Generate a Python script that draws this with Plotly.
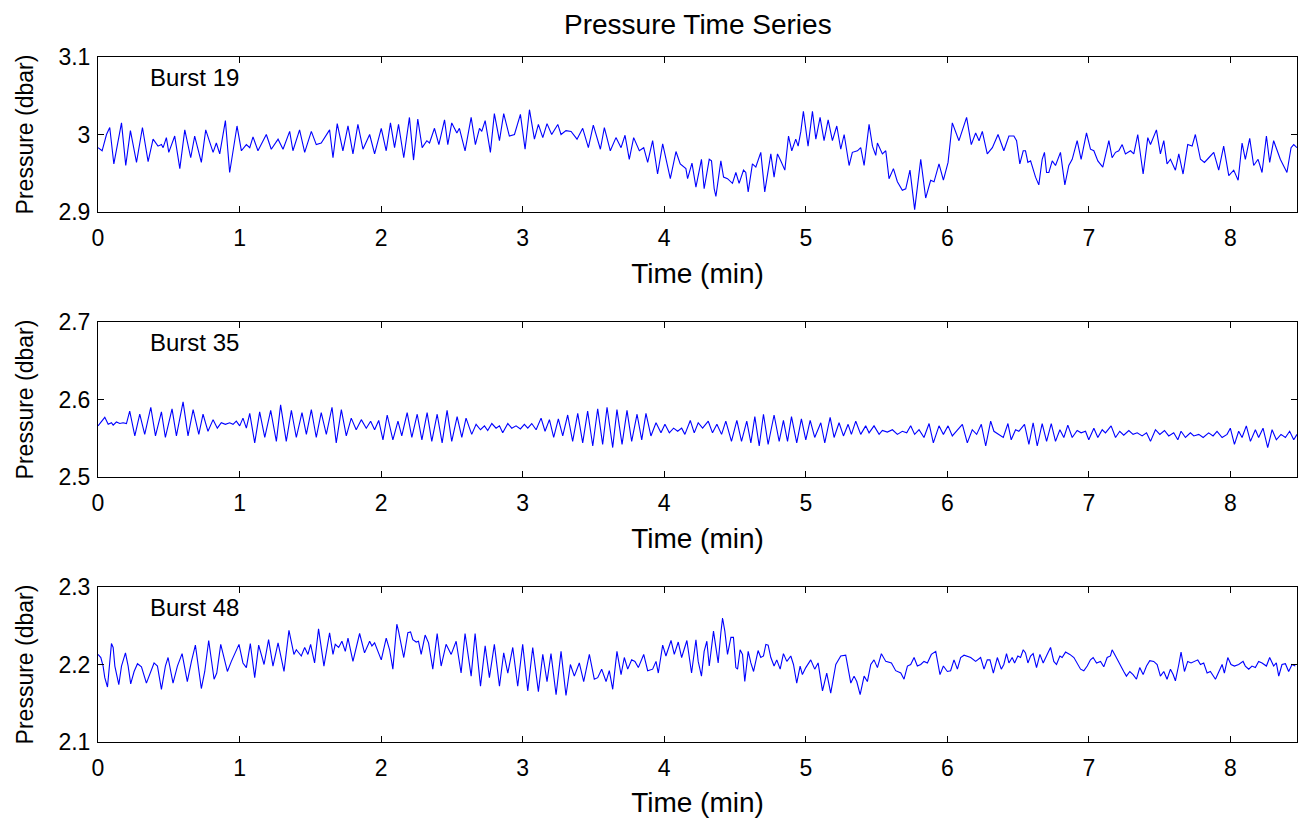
import plotly.graph_objects as go

# (time in min, pressure in dbar)
burst19 = [(0.000,2.983),(0.029,2.979),(0.060,3.000),(0.083,3.009),(0.112,2.962),(0.166,3.015),(0.196,2.960),(0.229,3.005),(0.272,2.964),(0.314,3.009),(0.354,2.965),(0.389,2.994),(0.424,2.985),(0.448,2.987),(0.460,2.983),(0.483,2.996),(0.500,2.977),(0.542,2.998),(0.578,2.956),(0.613,3.006),(0.655,2.970),(0.683,2.998),(0.730,2.964),(0.761,3.006),(0.813,2.977),(0.836,2.989),(0.860,2.975),(0.900,3.018),(0.930,2.951),(0.982,3.011),(1.013,2.979),(1.048,2.987),(1.072,2.983),(1.095,2.997),(1.130,2.979),(1.189,3.000),(1.224,2.981),(1.272,2.994),(1.307,2.981),(1.354,3.004),(1.377,2.979),(1.424,3.006),(1.460,2.977),(1.507,3.004),(1.542,2.987),(1.577,2.989),(1.636,3.006),(1.660,2.970),(1.690,3.014),(1.730,2.979),(1.766,3.011),(1.801,2.975),(1.836,3.013),(1.872,2.981),(1.919,3.000),(1.954,2.975),(2.001,3.008),(2.036,2.979),(2.066,3.015),(2.095,2.983),(2.123,3.013),
(2.160,2.970),(2.200,3.022),(2.229,2.967),(2.259,3.020),(2.290,2.983),(2.323,2.992),(2.342,2.989),(2.377,3.008),(2.408,2.987),(2.448,3.019),(2.471,2.987),(2.499,3.015),(2.535,3.002),(2.553,3.008),(2.593,2.979),(2.636,3.022),(2.666,2.987),(2.695,3.008),(2.711,3.004),(2.735,3.018),(2.772,2.977),(2.800,3.027),(2.836,2.992),(2.866,3.027),(2.906,2.998),(2.942,3.000),(2.984,3.026),(3.017,2.981),(3.048,3.032),(3.083,2.994),(3.111,3.013),(3.142,2.996),(3.172,3.014),(3.205,3.000),(3.248,3.013),(3.271,3.000),(3.306,3.005),(3.342,3.004),(3.384,2.994),(3.424,3.008),(3.464,2.983),(3.499,3.012),(3.549,2.981),(3.577,3.009),(3.619,2.979),(3.659,2.996),(3.695,2.983),(3.723,2.999),(3.753,2.968),(3.784,2.996),(3.824,2.979),(3.855,2.983),(3.883,2.964),(3.918,2.992),(3.953,2.949),(3.989,2.988),(4.043,2.943),(4.083,2.978),(4.113,2.962),(4.153,2.956),(4.165,2.943),(4.196,2.963),(4.224,2.932),
(4.263,2.968),(4.282,2.930),(4.318,2.968),(4.334,2.966),(4.353,2.930),(4.365,2.920),(4.400,2.966),(4.419,2.945),(4.447,2.943),(4.482,2.937),(4.506,2.951),(4.529,2.937),(4.560,2.954),(4.576,2.951),(4.593,2.926),(4.623,2.962),(4.647,2.958),(4.682,2.977),(4.710,2.926),(4.753,2.975),(4.776,2.945),(4.800,2.975),(4.823,2.966),(4.852,2.954),(4.878,2.998),(4.901,2.979),(4.929,2.994),(4.946,2.985),(4.965,3.004),(4.983,3.030),(5.016,2.985),(5.047,3.030),(5.071,2.994),(5.101,3.022),(5.129,2.992),(5.158,3.019),(5.188,2.992),(5.219,3.011),(5.247,2.981),(5.271,3.000),(5.306,2.960),(5.329,2.977),(5.365,2.979),(5.388,2.983),(5.412,2.960),(5.447,3.013),(5.471,2.985),(5.494,2.973),(5.506,2.989),(5.541,2.975),(5.565,2.979),(5.588,2.943),(5.619,2.956),(5.647,2.939),(5.682,2.928),(5.706,2.930),(5.736,2.954),(5.769,2.903),(5.812,2.968),(5.847,2.918),(5.882,2.941),(5.906,2.939),(5.941,2.962),(5.972,2.941),(6.005,2.964),(6.035,3.015),(6.082,2.992),(6.136,3.022),(6.169,2.987),(6.200,3.002),(6.224,2.992),(6.247,3.004),(6.282,2.975),(6.318,2.983),(6.358,3.000),
(6.399,2.979),(6.435,2.998),(6.470,2.998),(6.489,2.992),(6.512,2.962),(6.536,2.979),(6.552,2.979),(6.569,2.964),(6.588,2.966),(6.623,2.945),(6.646,2.935),(6.670,2.968),(6.686,2.977),(6.701,2.951),(6.717,2.951),(6.741,2.966),(6.764,2.960),(6.799,2.977),(6.830,2.935),(6.858,2.960),(6.882,2.968),(6.917,2.992),(6.945,2.968),(6.983,3.002),(7.011,2.981),(7.035,2.979),(7.063,2.966),(7.098,2.958),(7.141,2.992),(7.164,2.970),(7.188,2.977),(7.211,2.979),(7.235,2.987),(7.258,2.975),(7.294,2.979),(7.317,2.975),(7.345,3.000),(7.383,2.949),(7.416,2.996),(7.435,2.987),(7.477,3.006),(7.505,2.975),(7.529,2.992),(7.552,2.962),(7.576,2.968),(7.611,2.954),(7.635,2.975),(7.665,2.949),(7.698,2.987),(7.729,2.985),(7.752,3.000),(7.788,2.968),(7.816,2.964),(7.847,2.970),(7.882,2.977),(7.917,2.954),(7.952,2.985),(7.988,2.947),(8.023,2.954),(8.054,2.941),(8.082,2.989),(8.105,2.968),(8.136,2.995),(8.164,2.960),(8.195,2.968),(8.223,2.951),(8.254,2.998),(8.277,2.964),(8.305,2.992),(8.352,2.968),(8.399,2.951),(8.428,2.983),(8.447,2.987),(8.470,2.983)]

burst35 = [(0.000,2.566),(0.024,2.572),(0.048,2.577),(0.072,2.568),(0.095,2.570),(0.107,2.567),(0.130,2.571),(0.154,2.569),(0.177,2.570),(0.201,2.569),(0.224,2.585),(0.260,2.553),(0.295,2.581),(0.330,2.555),(0.373,2.590),(0.406,2.553),(0.448,2.584),(0.476,2.551),(0.523,2.588),(0.554,2.553),(0.601,2.597),(0.636,2.553),(0.672,2.587),(0.712,2.555),(0.742,2.581),(0.777,2.559),(0.813,2.574),(0.843,2.563),(0.871,2.570),(0.900,2.568),(0.930,2.570),(0.954,2.568),(0.977,2.572),(1.001,2.566),(1.024,2.576),(1.048,2.563),(1.072,2.582),(1.107,2.544),(1.142,2.584),(1.178,2.551),(1.220,2.586),(1.260,2.546),(1.290,2.593),(1.330,2.546),(1.366,2.586),(1.401,2.551),(1.441,2.583),(1.472,2.555),(1.507,2.587),(1.542,2.551),(1.577,2.583),(1.613,2.555),(1.653,2.590),(1.683,2.544),(1.719,2.587),(1.754,2.553),(1.789,2.576),(1.824,2.561),(1.860,2.574),(1.895,2.563),(1.926,2.572),(1.954,2.561),(1.983,2.573),(2.013,2.548),(2.043,2.580),(2.083,2.548),(2.119,2.572),
(2.146,2.553),(2.184,2.583),(2.217,2.551),(2.255,2.581),(2.288,2.548),(2.325,2.583),(2.358,2.546),(2.396,2.581),(2.431,2.544),(2.466,2.586),(2.499,2.546),(2.537,2.578),(2.570,2.551),(2.600,2.576),(2.640,2.555),(2.671,2.568),(2.702,2.561),(2.730,2.566),(2.753,2.560),(2.782,2.569),(2.812,2.563),(2.836,2.566),(2.859,2.557),(2.895,2.569),(2.923,2.563),(2.953,2.566),(2.984,2.562),(3.012,2.568),(3.036,2.563),(3.064,2.569),(3.095,2.561),(3.130,2.576),(3.158,2.559),(3.189,2.574),(3.219,2.551),(3.252,2.575),(3.283,2.553),(3.318,2.580),(3.353,2.546),(3.389,2.582),(3.424,2.544),(3.459,2.585),(3.495,2.540),(3.530,2.588),(3.565,2.542),(3.596,2.590),(3.636,2.538),(3.666,2.587),(3.702,2.542),(3.737,2.586),(3.770,2.546),(3.808,2.581),(3.841,2.548),(3.871,2.582),(3.906,2.553),(3.942,2.570),(3.977,2.557),(4.005,2.568),(4.036,2.557),(4.066,2.563),(4.095,2.559),(4.123,2.563),(4.146,2.555),(4.184,2.573),(4.212,2.557),(4.240,2.570),
(4.271,2.563),(4.311,2.572),(4.341,2.557),(4.372,2.568),(4.405,2.555),(4.435,2.572),(4.475,2.546),(4.513,2.573),(4.546,2.546),(4.583,2.572),(4.612,2.544),(4.640,2.578),(4.671,2.540),(4.701,2.581),(4.734,2.542),(4.776,2.580),(4.812,2.546),(4.842,2.573),(4.871,2.546),(4.899,2.578),(4.936,2.544),(4.969,2.575),(5.000,2.548),(5.031,2.573),(5.063,2.551),(5.106,2.570),(5.134,2.544),(5.172,2.577),(5.200,2.551),(5.235,2.570),(5.266,2.553),(5.299,2.568),(5.322,2.555),(5.353,2.572),(5.388,2.555),(5.423,2.566),(5.447,2.557),(5.482,2.566),(5.518,2.555),(5.541,2.560),(5.576,2.558),(5.612,2.561),(5.647,2.555),(5.682,2.559),(5.713,2.557),(5.741,2.566),(5.769,2.555),(5.800,2.561),(5.835,2.551),(5.871,2.569),(5.901,2.544),(5.941,2.566),(5.972,2.555),(6.005,2.566),(6.035,2.553),(6.071,2.560),(6.106,2.568),(6.141,2.544),(6.176,2.561),(6.207,2.555),(6.240,2.568),(6.271,2.540),(6.306,2.572),(6.329,2.559),(6.358,2.555),
(6.395,2.551),(6.428,2.569),(6.451,2.548),(6.482,2.561),(6.505,2.559),(6.545,2.568),(6.576,2.542),(6.606,2.570),(6.635,2.540),(6.670,2.569),(6.701,2.546),(6.734,2.569),(6.764,2.546),(6.795,2.561),(6.823,2.551),(6.851,2.567),(6.882,2.551),(6.917,2.560),(6.945,2.557),(6.976,2.559),(6.999,2.548),(7.035,2.563),(7.063,2.551),(7.094,2.561),(7.117,2.557),(7.157,2.566),(7.188,2.551),(7.218,2.559),(7.246,2.554),(7.282,2.560),(7.312,2.555),(7.341,2.557),(7.376,2.553),(7.407,2.557),(7.435,2.546),(7.470,2.561),(7.501,2.555),(7.534,2.560),(7.564,2.553),(7.599,2.557),(7.628,2.548),(7.651,2.559),(7.682,2.551),(7.717,2.557),(7.741,2.553),(7.776,2.555),(7.807,2.551),(7.846,2.557),(7.877,2.553),(7.905,2.559),(7.941,2.551),(7.976,2.555),(7.999,2.563),(8.028,2.542),(8.058,2.559),(8.082,2.551),(8.112,2.566),(8.141,2.546),(8.176,2.561),(8.199,2.551),(8.230,2.563),(8.263,2.538),(8.294,2.561),(8.324,2.548),(8.357,2.555),(8.388,2.551),(8.418,2.559),(8.447,2.548),(8.470,2.555)]

burst48 = [(0.000,2.213),(0.020,2.209),(0.036,2.198),(0.048,2.183),(0.067,2.171),(0.083,2.204),(0.095,2.227),(0.107,2.222),(0.119,2.198),(0.147,2.174),(0.166,2.198),(0.194,2.215),(0.213,2.198),(0.231,2.175),(0.255,2.191),(0.279,2.201),(0.307,2.197),(0.342,2.176),(0.366,2.187),(0.396,2.202),(0.420,2.198),(0.448,2.168),(0.476,2.198),(0.495,2.209),(0.530,2.176),(0.561,2.198),(0.594,2.214),(0.631,2.178),(0.660,2.204),(0.688,2.225),(0.730,2.169),(0.754,2.191),(0.782,2.231),(0.820,2.181),(0.839,2.189),(0.867,2.226),(0.914,2.191),(0.942,2.204),(0.996,2.226),(1.024,2.202),(1.048,2.196),(1.076,2.227),(1.107,2.183),(1.135,2.225),(1.173,2.200),(1.205,2.232),(1.236,2.198),(1.272,2.228),(1.314,2.191),(1.349,2.244),(1.384,2.213),(1.401,2.219),(1.436,2.211),(1.460,2.222),(1.483,2.213),(1.502,2.226),(1.530,2.202),(1.558,2.246),(1.596,2.198),(1.636,2.241),(1.660,2.213),(1.676,2.226),(1.700,2.222),(1.723,2.230),(1.747,2.217),(1.766,2.234),(1.801,2.204),(1.848,2.240),(1.883,2.215),(1.919,2.230),(1.935,2.224),(1.954,2.228),(2.001,2.206),(2.036,2.234),(2.060,2.219),(2.083,2.194),(2.111,2.252),(2.123,2.243),
(2.160,2.209),(2.189,2.241),(2.208,2.242),(2.224,2.232),(2.248,2.229),(2.264,2.230),(2.283,2.213),(2.311,2.238),(2.335,2.228),(2.365,2.194),(2.396,2.240),(2.424,2.198),(2.459,2.226),(2.471,2.222),(2.495,2.213),(2.530,2.230),(2.565,2.189),(2.593,2.240),(2.636,2.185),(2.664,2.240),(2.702,2.172),(2.735,2.224),(2.765,2.183),(2.800,2.226),(2.836,2.172),(2.866,2.215),(2.895,2.189),(2.930,2.222),(2.965,2.172),(3.000,2.226),(3.036,2.166),(3.071,2.222),(3.111,2.165),(3.142,2.213),(3.172,2.178),(3.200,2.214),(3.236,2.161),(3.271,2.217),(3.306,2.160),(3.337,2.200),(3.365,2.185),(3.400,2.202),(3.431,2.178),(3.471,2.213),(3.506,2.181),(3.530,2.183),(3.558,2.194),(3.589,2.178),(3.612,2.192),(3.636,2.168),(3.666,2.217),(3.695,2.187),(3.718,2.209),(3.742,2.194),(3.770,2.206),(3.793,2.204),(3.817,2.196),(3.855,2.213),(3.883,2.192),(3.918,2.194),(3.942,2.204),(3.958,2.189),(3.989,2.225),(4.012,2.211),(4.048,2.231),(4.071,2.213),(4.099,2.229),(4.123,2.209),(4.160,2.231),(4.193,2.189),(4.224,2.232),(4.240,2.204),
(4.263,2.185),(4.282,2.217),(4.301,2.230),(4.318,2.198),(4.334,2.226),(4.348,2.243),(4.365,2.222),(4.381,2.202),(4.400,2.241),(4.412,2.260),(4.428,2.243),(4.447,2.213),(4.471,2.235),(4.489,2.235),(4.506,2.196),(4.518,2.194),(4.536,2.219),(4.553,2.213),(4.569,2.178),(4.593,2.217),(4.612,2.202),(4.631,2.191),(4.663,2.218),(4.682,2.209),(4.701,2.211),(4.718,2.226),(4.734,2.225),(4.753,2.209),(4.776,2.198),(4.795,2.206),(4.819,2.194),(4.842,2.214),(4.866,2.204),(4.894,2.211),(4.913,2.200),(4.936,2.176),(4.960,2.198),(4.976,2.187),(5.000,2.196),(5.035,2.206),(5.063,2.194),(5.087,2.202),(5.118,2.166),(5.148,2.189),(5.176,2.163),(5.212,2.200),(5.247,2.211),(5.282,2.212),(5.318,2.176),(5.341,2.185),(5.360,2.178),(5.384,2.161),(5.412,2.185),(5.435,2.178),(5.459,2.200),(5.482,2.206),(5.506,2.196),(5.534,2.214),(5.565,2.204),(5.605,2.202),(5.635,2.192),(5.671,2.189),(5.694,2.181),(5.718,2.198),(5.741,2.200),(5.765,2.209),(5.788,2.198),(5.812,2.200),(5.835,2.204),(5.859,2.202),(5.887,2.213),(5.918,2.217),(5.948,2.187),(5.972,2.198),(6.000,2.191),(6.023,2.192),(6.047,2.206),(6.071,2.194),(6.094,2.209),(6.118,2.212),(6.165,2.209),(6.200,2.204),(6.235,2.209),(6.259,2.194),(6.282,2.206),(6.301,2.206),(6.325,2.189),(6.353,2.209),
(6.381,2.194),(6.399,2.200),(6.418,2.214),(6.435,2.202),(6.458,2.209),(6.475,2.202),(6.498,2.211),(6.517,2.209),(6.536,2.219),(6.552,2.215),(6.569,2.202),(6.588,2.211),(6.606,2.214),(6.630,2.196),(6.654,2.213),(6.677,2.202),(6.705,2.213),(6.729,2.222),(6.752,2.204),(6.771,2.200),(6.795,2.211),(6.811,2.209),(6.835,2.216),(6.865,2.213),(6.894,2.209),(6.917,2.202),(6.941,2.194),(6.964,2.192),(6.988,2.198),(7.011,2.206),(7.030,2.209),(7.054,2.202),(7.082,2.204),(7.105,2.197),(7.129,2.209),(7.152,2.211),(7.164,2.219),(7.188,2.211),(7.218,2.200),(7.246,2.191),(7.265,2.185),(7.289,2.191),(7.312,2.187),(7.336,2.181),(7.359,2.196),(7.383,2.187),(7.407,2.198),(7.430,2.205),(7.458,2.204),(7.482,2.200),(7.505,2.185),(7.529,2.191),(7.552,2.181),(7.576,2.194),(7.595,2.187),(7.611,2.179),(7.635,2.200),(7.651,2.216),(7.675,2.191),(7.698,2.204),(7.722,2.202),(7.741,2.204),(7.769,2.206),(7.788,2.200),(7.811,2.202),(7.835,2.189),(7.858,2.191),(7.894,2.181),(7.917,2.191),(7.941,2.200),(7.957,2.189),(7.981,2.209),(8.004,2.200),(8.028,2.198),(8.058,2.200),(8.089,2.204),(8.105,2.198),(8.129,2.194),(8.152,2.198),(8.176,2.196),(8.199,2.204),(8.223,2.202),(8.254,2.198),(8.277,2.209),(8.305,2.198),(8.324,2.202),(8.341,2.185),(8.364,2.200),(8.388,2.201),(8.411,2.191),(8.435,2.200),(8.458,2.198)]

panels = [
    ("Burst 19", burst19, [2.9, 3.1], [2.9, 3.0, 3.1], ["2.9", "3", "3.1"]),
    ("Burst 35", burst35, [2.5, 2.7], [2.5, 2.6, 2.7], ["2.5", "2.6", "2.7"]),
    ("Burst 48", burst48, [2.1, 2.3], [2.1, 2.2, 2.3], ["2.1", "2.2", "2.3"]),
]
xticks = [0, 1, 2, 3, 4, 5, 6, 7, 8]
x_range = [0, 8.47]

W, H = 1299, 818
plot_left, plot_right = 98, 2
plot_top, plot_bot = 57, 75
avail = H - plot_top - plot_bot
panel_px = [(57, 212), (322, 477), (587, 742)]

FONT = "Liberation Sans, Arial, Helvetica, sans-serif"
fig = go.Figure()
annotations = [dict(
    text="Pressure Time Series", xref="paper", yref="paper",
    x=0.5, y=1 + (plot_top - 25) / avail, xanchor="center", yanchor="middle",
    showarrow=False, font=dict(size=28))]
layout = dict(
    width=W, height=H, autosize=False,
    paper_bgcolor="white", plot_bgcolor="white",
    margin=dict(l=plot_left, r=plot_right, t=plot_top, b=plot_bot),
    showlegend=False,
    font=dict(family=FONT, size=22, color="black"),
)

for i, (label, data, yr, yt, ytt) in enumerate(panels):
    n = i + 1
    xs = [p[0] for p in data]
    ys = [p[1] for p in data]
    xa = "x" if n == 1 else f"x{n}"
    ya = "y" if n == 1 else f"y{n}"
    fig.add_trace(go.Scatter(x=xs, y=ys, mode="lines", xaxis=xa, yaxis=ya,
                             line=dict(color="#0000ff", width=1.1)))
    top, bot = panel_px[i]
    d0 = (H - plot_bot - bot) / avail
    d1 = (H - plot_bot - top) / avail
    axis_common = dict(showline=True, linecolor="black", linewidth=1, mirror="ticks",
                       ticks="inside", ticklen=6, tickcolor="black", showgrid=False,
                       zeroline=False, tickfont=dict(size=23), automargin=False)
    layout["xaxis" if n == 1 else f"xaxis{n}"] = dict(
        axis_common, range=x_range, tickvals=xticks, anchor=ya, ticklabelstandoff=5,
        title=dict(text="Time (min)", font=dict(size=28), standoff=13))
    layout["yaxis" if n == 1 else f"yaxis{n}"] = dict(
        axis_common, range=yr, tickvals=yt, ticktext=ytt, anchor=xa,
        domain=[d0, d1], ticklabelstandoff=2,
        title=dict(text="Pressure (dbar)", font=dict(size=23), standoff=18))
    annotations.append(dict(
        text=label, xref=xa, yref=ya, x=0.35, y=yr[1] - 0.027,
        xanchor="left", yanchor="middle", showarrow=False, font=dict(size=24)))

layout["annotations"] = annotations
fig.update_layout(**layout)

post = ("document.documentElement.style.margin='0';document.body.style.margin='0';"
        "document.body.style.padding='0';document.body.style.overflow='hidden';"
        "var gd=document.getElementById('{plot_id}');"
        "Plotly.relayout(gd,{width:1299,height:818});")
fig.write_html("out.html", config={"responsive": False, "displayModeBar": False},
               default_width="1299px", default_height="818px", post_script=post)
